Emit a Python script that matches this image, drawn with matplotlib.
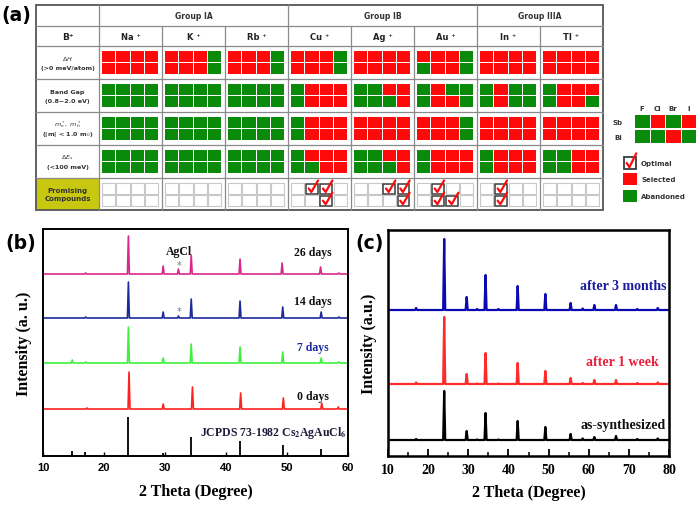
import matplotlib
matplotlib.use('Agg')
import matplotlib.pyplot as plt
from matplotlib.patches import Rectangle
import numpy as np

# ---------------- panel (a) data ----------------
cations = ['Na', 'K', 'Rb', 'Cu', 'Ag', 'Au', 'In', 'Tl']
groups = [('Group IA', 0, 3), ('Group IB', 3, 6), ('Group IIIA', 6, 8)]
halides = ['F', 'Cl', 'Br', 'I']
pnictogens = ['Sb', 'Bi']
# R = selected (red), G = abandoned (green); "Sb row / Bi row", columns F Cl Br I
crit_dH = ['RRRR/RRRR', 'RRRG/RRRG', 'RRRG/RRRG', 'RRRG/RRRG',
           'RRRR/RRRR', 'RRRG/GRRG', 'RRRR/RRRR', 'RRRR/RRRR']
crit_gap = ['GGGG/GGGG', 'GGGG/GGGG', 'GGGG/GGGG', 'GRRR/GRRR',
            'GGRR/GGGR', 'GRGG/GRRG', 'GRGG/GRGG', 'GRRR/GRRG']
crit_mass = ['GGGG/GGGG', 'GGGG/GGGG', 'GGGG/GGGG', 'GRRR/GRRR',
             'RRRR/RRRR', 'RRRG/RRRG', 'RRRR/RRRR', 'RRRR/RRRR']
crit_dEs = ['GGGG/GGGG', 'GGGG/GGGG', 'GGGG/GGGG', 'GRRR/GGRR',
            'GGRR/GGGR', 'GRRR/GRRR', 'GRRR/GRRR', 'GGRR/GGRR']
optimal = ['..../....', '..../....', '..../....', '.XX./..X.',
           '..XX/...X', '.X../.XX.', '.X../.X..', '..../....']
key_grid = 'GRGR/GGRG'

# ---------------- panel (b) data ----------------
b_jcpds_pos = [14.7, 16.9, 24.0, 28.2, 29.6, 34.3, 38.5, 42.3, 45.0, 49.3, 51.6, 55.6]
b_jcpds_h = [5, 4, 39, 1.5, 3, 19, 1.5, 15, 1.5, 11, 1, 7]
b_0d_pos = [17.2, 24.1, 29.7, 34.5, 42.4, 49.4, 55.7, 58.4]
b_0d_h = [1, 37, 5, 22, 16, 11, 6, 2]
b_7d_pos = [14.8, 17.0, 24.0, 29.7, 34.3, 42.3, 49.3, 55.6, 58.5]
b_7d_h = [3, 1, 36, 5, 19, 16, 11, 5, 1]
b_14d_pos = [17.0, 24.0, 29.7, 32.2, 34.3, 42.3, 49.3, 55.6, 58.5]
b_14d_h = [1, 36, 6, 2, 19, 17, 11, 6, 1]
b_26d_pos = [17.0, 24.0, 29.7, 32.2, 34.3, 42.3, 49.2, 55.5, 58.5]
b_26d_h = [1, 38, 8, 5, 19, 15, 11, 7, 1]
b_offsets = [47, 93, 138, 182]
b_labels = ['0 days', '7 days', '14 days', '26 days']

# ---------------- panel (c) data ----------------
c_pos = [17.0, 24.0, 29.6, 32.2, 34.3, 37.5, 42.3, 49.2, 55.5, 58.5, 61.4, 66.8, 72.1, 77.2]
c_as_h = [1, 49, 9, 0.5, 27, 0.5, 19, 13, 6, 1.5, 3, 4, 1, 1.5]
c_1w_h = [1.5, 67, 10, 0.5, 31, 0.5, 21, 13, 6, 1, 4, 4, 1, 1.5]
c_3m_h = [2, 71, 13, 1, 35, 1, 24, 16, 7, 1.5, 5, 5, 1, 2]
c_offsets = [16, 72, 146]
c_labels = ['as-synthesized', 'after 1 week', 'after 3 months']

RED = '#ff0a0a'
GREEN = '#0a8a0a'

fig = plt.figure(figsize=(6.99, 5.06), dpi=100)
bg = fig.add_axes([0, 0, 1, 1])
bg.set_xlim(0, 699)
bg.set_ylim(506, 0)
bg.axis('off')

# ---- table geometry (pixels) ----
tx0, hdr_w, col_w = 36, 63, 63
rows_y = [6, 27, 47, 80, 113, 146, 179, 211]
tx1 = tx0 + hdr_w + col_w * len(cations)
col_x = [tx0 + hdr_w + i * col_w for i in range(len(cations) + 1)]

# promising header background
bg.add_patch(Rectangle((tx0, rows_y[6]), hdr_w, rows_y[7] - rows_y[6],
                       facecolor='#c8c810', edgecolor='none'))

gcol = '#8a8a8a'
for y in rows_y[1:-1]:
    bg.plot([tx0, tx1], [y, y], color=gcol, lw=0.9)
bg.plot([tx0 + hdr_w] * 2, [rows_y[0], rows_y[7]], color=gcol, lw=0.9)
for i, x in enumerate(col_x[1:-1], start=1):
    top = rows_y[0] if i in (3, 6) else rows_y[1]
    bg.plot([x, x], [top, rows_y[7]], color=gcol, lw=0.9)
bg.add_patch(Rectangle((tx0, rows_y[0]), tx1 - tx0, rows_y[7] - rows_y[0],
                       facecolor='none', edgecolor='#555555', lw=1.3))

for name, i0, i1 in groups:
    bg.text((col_x[i0] + col_x[i1]) / 2, (rows_y[0] + rows_y[1]) / 2, name,
            ha='center', va='center', fontsize=5.5, fontweight='bold', color='#333333')
bg.text(tx0 + hdr_w / 2, (rows_y[1] + rows_y[2]) / 2, 'B⁺', ha='center', va='center',
        fontsize=6.5, fontweight='bold', color='#222222')
for i, c in enumerate(cations):
    bg.text((col_x[i] + col_x[i + 1]) / 2, (rows_y[1] + rows_y[2]) / 2, c + ' ⁺',
            ha='center', va='center', fontsize=6, fontweight='bold', color='#222222')

row_labels = [(r'$\mathit{\Delta H}$', '(>0 meV/atom)'),
              ('Band Gap', '(0.8~2.0 eV)'),
              (r'$m^*_e,\ m^*_h$', r'(|m| < 1.0 m$_0$)'),
              (r'$\Delta E_s$', '(<100 meV)'),
              ('Promising', 'Compounds')]
for r, (l1, l2) in enumerate(row_labels):
    yc = (rows_y[2 + r] + rows_y[3 + r]) / 2
    fs = 5 if r == 4 else 4.6
    bg.text(tx0 + hdr_w / 2, yc - 4.5, l1, ha='center', va='center', fontsize=fs,
            fontweight='bold', color='#333333')
    bg.text(tx0 + hdr_w / 2, yc + 4.5, l2, ha='center', va='center', fontsize=fs,
            fontweight='bold', color='#333333')

sq_w, sq_h, pitch_x, pitch_y = 13.3, 11.0, 14.3, 12.2


def draw_check(x0, y0, w, h, lw_box=1.1):
    bg.add_patch(Rectangle((x0, y0), w, h, facecolor='white', edgecolor='#3a3a3a', lw=lw_box))
    bg.plot([x0 + 0.22 * w, x0 + 0.45 * w, x0 + 1.02 * w],
            [y0 + 0.5 * h, y0 + 0.85 * h, y0 - 0.3 * h], color=RED, lw=1.6,
            solid_capstyle='round', solid_joinstyle='round')


crit_all = [crit_dH, crit_gap, crit_mass, crit_dEs]
for r, crit in enumerate(crit_all):
    y_top = rows_y[2 + r] + 5
    for i, code in enumerate(crit):
        x_left = col_x[i] + 3
        for k, rowcode in enumerate(code.split('/')):
            for j, ch in enumerate(rowcode):
                bg.add_patch(Rectangle((x_left + j * pitch_x, y_top + k * pitch_y), sq_w, sq_h,
                                       facecolor=RED if ch == 'R' else GREEN,
                                       edgecolor='none'))
# promising row
for i, code in enumerate(optimal):
    x_left = col_x[i] + 3
    y_top = rows_y[6] + 5
    for k, rowcode in enumerate(code.split('/')):
        for j, ch in enumerate(rowcode):
            x0 = x_left + j * pitch_x
            y0 = y_top + k * pitch_y
            if ch == 'X':
                draw_check(x0 + 0.8, y0 + 0.5, sq_w - 1.6, sq_h - 1)
            else:
                bg.add_patch(Rectangle((x0, y0), sq_w, sq_h, facecolor='white',
                                       edgecolor='#c8c8c8', lw=0.8))

# key grid
kx0, ky0 = 635, 116
for j, h in enumerate(halides):
    bg.text(kx0 + 7 + j * 15.5, 109, h, ha='center', va='center', fontsize=5,
            fontweight='bold', color='#333333')
for k, (p, rowcode) in enumerate(zip(pnictogens, key_grid.split('/'))):
    bg.text(618, ky0 + 7 + k * 14.5, p, ha='center', va='center', fontsize=5,
            fontweight='bold', color='#333333')
    for j, ch in enumerate(rowcode):
        bg.add_patch(Rectangle((kx0 + j * 15.5, ky0 + k * 14.5), 14.5, 13,
                               facecolor=RED if ch == 'R' else GREEN, edgecolor='none'))
draw_check(624, 158, 12, 12, lw_box=1.3)
bg.text(641, 164, 'Optimal', ha='left', va='center', fontsize=5, fontweight='bold', color='#333333')
bg.add_patch(Rectangle((623, 174), 14, 12, facecolor=RED, edgecolor='none'))
bg.text(641, 180, 'Selected', ha='left', va='center', fontsize=5, fontweight='bold', color='#333333')
bg.add_patch(Rectangle((623, 191), 14, 12, facecolor=GREEN, edgecolor='none'))
bg.text(641, 197, 'Abandoned', ha='left', va='center', fontsize=5, fontweight='bold', color='#333333')

# panel labels
for lab, x, y in [('(a)', 1, 15), ('(b)', 5, 243), ('(c)', 355, 243)]:
    bg.text(x, y, lab, ha='left', va='center', fontsize=13.5, fontweight='bold',
            family='DejaVu Sans')

serif = 'Liberation Serif'
plt.rcParams['mathtext.fontset'] = 'stix'


def peak_line(pos, hts, x0, x1, hw):
    xs = [x0]
    ys = [0.0]
    for p, h in sorted(zip(pos, hts)):
        xs += [p - hw, p, p + hw]
        ys += [0.0, h, 0.0]
    xs.append(x1)
    ys.append(0.0)
    return np.array(xs), np.array(ys)


# ---------------- panel (b) ----------------
axb = fig.add_axes([43 / 699, 49 / 506, 305 / 699, 227 / 506])
axb.set_xlim(10, 60)
axb.set_ylim(0, 227)
axb.vlines(b_jcpds_pos, 0, b_jcpds_h, color='black', lw=1.3)
b_series = [(b_0d_pos, b_0d_h, '#ff2020'), (b_7d_pos, b_7d_h, '#40f040'),
            (b_14d_pos, b_14d_h, '#1c2a9c'), (b_26d_pos, b_26d_h, '#d8288c')]
b_label_cols = ['#111111', '#1c2aa0', '#111111', '#111111']
b_label_y = [60, 109, 155, 204]
for (pos, h, col), off, lab, lc, ly in zip(b_series, b_offsets, b_labels, b_label_cols, b_label_y):
    xs, ys = peak_line(pos, h, 10, 60, 0.16)
    axb.plot(xs, ys + off, color=col, lw=1.2)
    axb.text(54.2, ly, lab, ha='center', va='center', fontsize=8.5, fontweight='bold',
             family=serif, color=lc)
axb.text(32.3, 191, '*', ha='center', va='center', fontsize=7, color='#777777')
axb.text(32.3, 145, '*', ha='center', va='center', fontsize=7, color='#7777aa')
axb.text(32.3, 205, 'AgCl', ha='center', va='center', fontsize=8.5, fontweight='bold',
         family=serif, color='#111111')
axb.text(59.7, 24, r'JCPDS 73-1982 Cs$_{\mathbf{2}}$AgAuCl$_{\mathbf{6}}$', ha='right', va='center',
         fontsize=8.5, fontweight='bold', family=serif, color='#1a1a3a')
axb.set_yticks([])
axb.set_xticks([10, 20, 30, 40, 50, 60])
axb.tick_params(axis='x', direction='in', length=3, width=1, pad=4)
for t in axb.get_xticklabels():
    t.set_fontweight('bold')
    t.set_fontsize(8)
    t.set_family('Liberation Sans')
for s in axb.spines.values():
    s.set_linewidth(1.4)
axb.set_xlabel('2 Theta (Degree)', fontsize=11.5, fontweight='bold', family=serif, labelpad=8)
axb.set_ylabel('Intensity (a. u.)', fontsize=11.5, fontweight='bold', family=serif, labelpad=8)

# ---------------- panel (c) ----------------
axc = fig.add_axes([388 / 699, 49 / 506, 281 / 699, 226 / 506])
axc.set_xlim(10, 80)
axc.set_ylim(0, 226)
c_cols = ['black', '#ff2a2a', '#0a0ab0']
c_label_cols = ['#111111', '#e8203a', '#1a1aa0']
c_label_y = [31, 95, 170]
for hts, off, col, lab, lc, ly in zip([c_as_h, c_1w_h, c_3m_h], c_offsets, c_cols, c_labels,
                                      c_label_cols, c_label_y):
    xs, ys = peak_line(c_pos, hts, 10, 80, 0.26)
    axc.plot(xs, ys + off, color=col, lw=1.6)
    axc.text(68.5, ly, lab, ha='center', va='center', fontsize=10, fontweight='bold',
             family=serif, color=lc)
axc.set_yticks([])
axc.set_xticks([10, 20, 30, 40, 50, 60, 70, 80])
axc.set_xticks([15, 25, 35, 45, 55, 65, 75], minor=True)
axc.tick_params(axis='x', which='major', direction='in', length=5, width=1.3, pad=5)
axc.tick_params(axis='x', which='minor', direction='in', length=3, width=1.1)
for t in axc.get_xticklabels():
    t.set_fontweight('bold')
    t.set_fontsize(10)
    t.set_family(serif)
for s in axc.spines.values():
    s.set_linewidth(1.8)
axc.set_xlabel('2 Theta (Degree)', fontsize=11.5, fontweight='bold', family=serif, labelpad=6)
axc.set_ylabel('Intensity (a.u.)', fontsize=11.5, fontweight='bold', family=serif, labelpad=8)

fig.savefig('out.png', dpi=100)
